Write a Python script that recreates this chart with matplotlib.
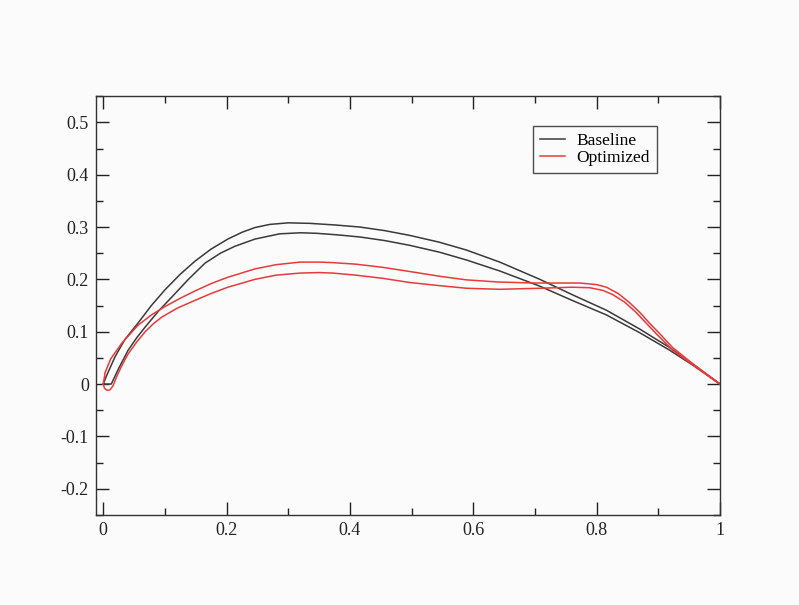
import matplotlib
matplotlib.use("Agg")
import matplotlib.pyplot as plt
from matplotlib.ticker import MultipleLocator, FuncFormatter

plt.rcParams['font.family'] = ['Liberation Serif', 'DejaVu Serif']

# baseline profile (upper / lower), LE -> TE
base_up_x = [0.0, 0.005, 0.019, 0.035, 0.056, 0.078, 0.100, 0.125, 0.149, 0.175, 0.202,
             0.225, 0.246, 0.270, 0.300, 0.335, 0.375, 0.416, 0.457, 0.497, 0.545,
             0.589, 0.643, 0.708, 0.760, 0.816, 0.870, 0.918, 0.960, 1.0]
base_up_y = [0.0, 0.015, 0.052, 0.085, 0.116, 0.150, 0.180, 0.210, 0.235, 0.258, 0.277,
             0.290, 0.299, 0.305, 0.308, 0.307, 0.304, 0.300, 0.293, 0.284, 0.271,
             0.256, 0.233, 0.200, 0.171, 0.141, 0.105, 0.070, 0.035, 0.0]
base_lo_x = [0.0, 0.013, 0.025, 0.040, 0.054, 0.068, 0.090, 0.111, 0.138, 0.165, 0.190,
             0.213, 0.246, 0.286, 0.320, 0.346, 0.380, 0.416, 0.457, 0.497, 0.545,
             0.589, 0.643, 0.708, 0.760, 0.816, 0.870, 0.918, 0.960, 1.0]
base_lo_y = [0.0, 0.0, 0.030, 0.064, 0.088, 0.109, 0.140, 0.166, 0.200, 0.231, 0.250,
             0.263, 0.277, 0.287, 0.289, 0.288, 0.285, 0.281, 0.274, 0.265, 0.252,
             0.237, 0.216, 0.187, 0.160, 0.132, 0.098, 0.065, 0.033, 0.0]

# optimized profile
opt_up_x = [0.0, 0.003, 0.012, 0.030, 0.056, 0.078, 0.100, 0.125, 0.149, 0.175, 0.202,
            0.246, 0.280, 0.319, 0.350, 0.372, 0.410, 0.453, 0.497, 0.545, 0.589,
            0.640, 0.697, 0.740, 0.773, 0.800, 0.816, 0.835, 0.853, 0.870, 0.886,
            0.905, 0.923, 0.960, 1.0]
opt_up_y = [0.0, 0.022, 0.048, 0.078, 0.112, 0.132, 0.148, 0.164, 0.178, 0.192, 0.204,
            0.220, 0.228, 0.233, 0.233, 0.232, 0.229, 0.223, 0.215, 0.206, 0.199,
            0.195, 0.193, 0.193, 0.193, 0.190, 0.185, 0.173, 0.156, 0.137, 0.116,
            0.093, 0.070, 0.035, 0.0]
opt_lo_x = [0.0, 0.002, 0.006, 0.011, 0.016, 0.022, 0.030, 0.040, 0.054, 0.068, 0.081,
            0.095, 0.120, 0.149, 0.175, 0.202, 0.246, 0.280, 0.319, 0.350, 0.372,
            0.410, 0.453, 0.497, 0.545, 0.589, 0.643, 0.708, 0.760, 0.789, 0.810,
            0.826, 0.845, 0.864, 0.880, 0.896, 0.923, 0.960, 1.0]
opt_lo_y = [0.0, -0.008, -0.012, -0.011, -0.003, 0.015, 0.035, 0.057, 0.080, 0.100, 0.115,
            0.128, 0.145, 0.160, 0.173, 0.185, 0.200, 0.208, 0.212, 0.213, 0.212,
            0.208, 0.202, 0.194, 0.188, 0.183, 0.181, 0.183, 0.185, 0.184, 0.179,
            0.171, 0.157, 0.137, 0.117, 0.097, 0.065, 0.033, 0.0]

fig = plt.figure(figsize=(7.99, 6.05), dpi=100, facecolor='#fbfbfb')
ax = fig.add_axes([0.120, 0.149, 0.781, 0.692])
ax.set_facecolor('#fbfbfb')

# closed outlines: upper LE->TE then lower TE->LE
ax.plot(base_up_x + base_lo_x[::-1], base_up_y + base_lo_y[::-1],
        color='#3a3a3a', lw=1.1, label='Baseline')
ax.plot(opt_up_x + opt_lo_x[::-1], opt_up_y + opt_lo_y[::-1],
        color='#e83a3a', lw=1.1, label='Optimized')

ax.set_xlim(-0.012, 1.0)
ax.set_ylim(-0.25, 0.55)
ax.xaxis.set_major_locator(MultipleLocator(0.2))
ax.xaxis.set_minor_locator(MultipleLocator(0.1))
ax.yaxis.set_major_locator(MultipleLocator(0.1))
ax.yaxis.set_minor_locator(MultipleLocator(0.05))
fmt = FuncFormatter(lambda v, p: '%g' % round(v, 3))
ax.xaxis.set_major_formatter(fmt)
ax.yaxis.set_major_formatter(fmt)

ax.tick_params(which='both', direction='in', top=True, right=True, colors='#222222',
               labelsize=13, width=1.0)
ax.tick_params(which='major', length=9.5, pad=5)
ax.tick_params(which='minor', length=5)
for s in ax.spines.values():
    s.set_linewidth(1.0)
    s.set_color('#333333')

leg = ax.legend(loc='upper left', bbox_to_anchor=(0.700, 0.930), fontsize=12.5,
                frameon=True, fancybox=False, handlelength=1.45, handletextpad=0.65,
                borderpad=0.4, labelspacing=0.1, borderaxespad=0)
leg.get_frame().set_edgecolor('#222222')
leg.get_frame().set_linewidth(1.0)
leg.get_frame().set_facecolor('#fbfbfb')

fig.savefig('out.png', dpi=100, facecolor=fig.get_facecolor())
